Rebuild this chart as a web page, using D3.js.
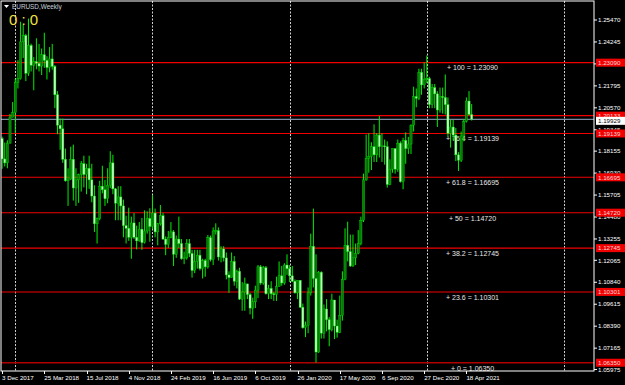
<!DOCTYPE html>
<html>
<head>
<meta charset="utf-8">
<script src="https://cdn.jsdelivr.net/npm/d3@7.9.0/dist/d3.min.js"></script>
<style>
  html, body { margin: 0; padding: 0; background: #000; }
  svg { display: block; font-family: "Liberation Sans", Arial, sans-serif; }
</style>
</head>
<body>
<svg id="chart" width="625" height="385"></svg>
<script>
// EURUSD weekly candles, first bar = week of 3 Dec 2017, last = week of 2 May 2021
const firstWeek = '2017-12-03';
const opens = [
  1.1885,1.1772,1.1750,1.1860,1.2005,
  1.2030,1.2200,1.2220,1.2425,1.2460,1.2250,1.2405,1.2295,1.2315,1.2305,1.2290,1.2353,1.2322,1.2282,1.2330,1.2288,1.2130,1.1960,1.1940,1.1770,1.1650,1.1660,1.1770,1.1610,1.1655,1.1685,1.1745,1.1685,1.1720,1.1655,1.1565,1.1410,1.1440,1.1620,1.1600,1.1550,1.1625,1.1750,1.1605,1.1525,1.1560,1.1510,1.1400,1.1385,1.1335,1.1415,1.1335,1.1315,1.1380,1.1305,1.1370,1.1440,
  1.1395,1.1470,1.1365,1.1410,1.1455,1.1325,1.1295,1.1335,1.1365,1.1240,1.1325,1.1300,1.1215,1.1220,1.1300,1.1245,1.1150,1.1200,1.1235,1.1160,1.1205,1.1170,1.1333,1.1210,1.1370,1.1372,1.1225,1.1270,1.1220,1.1125,1.1110,1.1200,1.1090,1.1145,1.0990,1.1030,1.1075,1.1015,1.0940,1.0975,1.1040,1.1170,1.1080,1.1165,1.1020,1.1050,1.1020,1.1015,1.1060,1.1120,1.1080,1.1180,
  1.1160,1.1120,1.1090,1.1025,1.1095,1.0945,1.0830,1.0845,1.1025,1.1285,1.1105,1.0695,1.1140,1.0800,1.0935,1.0875,1.0820,1.0985,1.0840,1.0805,1.0900,1.1100,1.1290,1.1255,1.1175,1.1220,1.1245,1.1300,1.1430,1.1655,1.1775,1.1785,1.1840,1.1795,1.1905,1.1840,1.1845,1.1840,1.1630,1.1715,1.1830,1.1715,1.1860,1.1645,1.1875,1.1830,1.1855,1.1960,1.2120,1.2110,1.2255,1.2185,
  1.2215,1.2220,1.2075,1.2170,1.2135,1.2045,1.2120,1.2115,1.2075,1.1915,1.1950,1.1905,1.1795,1.1765,1.1900,1.1980,1.2095,1.2020
];
const highs = [
  1.1896,1.1863,1.1876,1.2023,1.2089,
  1.2219,1.2323,1.2537,1.2520,1.2470,1.2555,1.2415,1.2340,1.2445,1.2413,1.2388,1.2476,1.2345,1.2396,1.2414,1.2296,1.2150,1.1997,1.1997,1.1830,1.1720,1.1840,1.1852,1.1720,1.1690,1.1760,1.1790,1.1745,1.1790,1.1745,1.1625,1.1445,1.1650,1.1734,1.1655,1.1720,1.1815,1.1795,1.1610,1.1620,1.1620,1.1545,1.1455,1.1500,1.1450,1.1470,1.1400,1.1420,1.1443,1.1485,1.1480,1.1497,
  1.1570,1.1495,1.1415,1.1515,1.1470,1.1340,1.1370,1.1420,1.1375,1.1345,1.1450,1.1325,1.1255,1.1325,1.1325,1.1265,1.1265,1.1265,1.1265,1.1215,1.1215,1.1348,1.1345,1.1390,1.1413,1.1390,1.1285,1.1285,1.1250,1.1145,1.1250,1.1230,1.1155,1.1165,1.1085,1.1110,1.1075,1.1025,1.0998,1.1065,1.1180,1.1180,1.1175,1.1175,1.1070,1.1090,1.1030,1.1115,1.1200,1.1175,1.1190,1.1240,
  1.1180,1.1175,1.1100,1.1095,1.1095,1.0965,1.0865,1.1055,1.1355,1.1495,1.1240,1.1147,1.1145,1.0960,1.0990,1.0890,1.1020,1.0985,1.0875,1.1010,1.1145,1.1385,1.1422,1.1350,1.1350,1.1300,1.1375,1.1450,1.1690,1.1908,1.1915,1.1865,1.1965,1.1915,1.2011,1.1915,1.1880,1.1870,1.1770,1.1830,1.1830,1.1880,1.1870,1.1890,1.1920,1.1895,1.1965,1.2175,1.2165,1.2275,1.2275,1.2310,
  1.2349,1.2230,1.2190,1.2190,1.2150,1.2170,1.2170,1.2243,1.2115,1.1990,1.1990,1.1945,1.1810,1.1925,1.1995,1.2115,1.2150,1.2078
];
const lows = [
  1.1717,1.1730,1.1720,1.1858,1.2004,
  1.1915,1.2165,1.2215,1.2335,1.2206,1.2235,1.2260,1.2155,1.2272,1.2260,1.2240,1.2280,1.2215,1.2255,1.2270,1.2055,1.1910,1.1823,1.1750,1.1645,1.1510,1.1655,1.1540,1.1510,1.1527,1.1590,1.1613,1.1575,1.1605,1.1530,1.1365,1.1300,1.1430,1.1580,1.1510,1.1525,1.1610,1.1575,1.1430,1.1430,1.1430,1.1335,1.1300,1.1315,1.1215,1.1325,1.1267,1.1310,1.1265,1.1300,1.1355,1.1310,
  1.1380,1.1335,1.1290,1.1400,1.1320,1.1235,1.1275,1.1330,1.1175,1.1220,1.1275,1.1210,1.1185,1.1210,1.1225,1.1110,1.1135,1.1160,1.1150,1.1105,1.1115,1.1160,1.1200,1.1180,1.1350,1.1205,1.1195,1.1200,1.1100,1.1025,1.1110,1.1065,1.1050,1.0985,1.0925,1.0925,1.0990,1.0905,1.0880,1.0940,1.0995,1.1070,1.1070,1.1015,1.0990,1.0990,1.0980,1.0980,1.1060,1.1065,1.1070,1.1125,
  1.1085,1.1085,1.1020,1.0990,1.0940,1.0825,1.0778,1.0800,1.1010,1.1055,1.0636,1.0690,1.0770,1.0770,1.0810,1.0727,1.0810,1.0767,1.0775,1.0800,1.0870,1.1095,1.1200,1.1170,1.1170,1.1180,1.1240,1.1290,1.1420,1.1650,1.1695,1.1710,1.1755,1.1755,1.1780,1.1755,1.1740,1.1612,1.1625,1.1695,1.1690,1.1700,1.1640,1.1603,1.1745,1.1800,1.1800,1.1925,1.2060,1.2100,1.2130,1.2165,
  1.2195,1.2055,1.2055,1.2055,1.1950,1.2030,1.2025,1.2020,1.1895,1.1835,1.1875,1.1760,1.1705,1.1755,1.1870,1.1975,1.2015,1.1986
];
const closes = [
  1.1772,1.1750,1.1860,1.2005,1.2030,
  1.2200,1.2220,1.2425,1.2460,1.2250,1.2405,1.2295,1.2315,1.2305,1.2290,1.2353,1.2322,1.2282,1.2330,1.2288,1.2130,1.1960,1.1940,1.1770,1.1650,1.1660,1.1770,1.1610,1.1655,1.1685,1.1745,1.1685,1.1720,1.1655,1.1565,1.1410,1.1440,1.1620,1.1600,1.1550,1.1625,1.1750,1.1605,1.1525,1.1560,1.1510,1.1400,1.1385,1.1335,1.1415,1.1335,1.1315,1.1380,1.1305,1.1370,1.1440,1.1395,
  1.1470,1.1365,1.1410,1.1455,1.1325,1.1295,1.1335,1.1365,1.1240,1.1325,1.1300,1.1215,1.1220,1.1300,1.1245,1.1150,1.1200,1.1235,1.1160,1.1205,1.1170,1.1333,1.1210,1.1370,1.1372,1.1225,1.1270,1.1220,1.1125,1.1110,1.1200,1.1090,1.1145,1.0990,1.1030,1.1075,1.1015,1.0940,1.0975,1.1040,1.1170,1.1080,1.1165,1.1020,1.1050,1.1020,1.1015,1.1060,1.1120,1.1080,1.1180,1.1160,
  1.1120,1.1090,1.1025,1.1095,1.0945,1.0830,1.0845,1.1025,1.1285,1.1105,1.0695,1.1140,1.0800,1.0935,1.0875,1.0820,1.0985,1.0840,1.0805,1.0900,1.1100,1.1290,1.1255,1.1175,1.1220,1.1245,1.1300,1.1430,1.1655,1.1775,1.1785,1.1840,1.1795,1.1905,1.1840,1.1845,1.1840,1.1630,1.1715,1.1830,1.1715,1.1860,1.1645,1.1875,1.1830,1.1855,1.1960,1.2120,1.2110,1.2255,1.2185,1.2215,
  1.2220,1.2075,1.2170,1.2135,1.2045,1.2120,1.2115,1.2075,1.1915,1.1950,1.1905,1.1795,1.1765,1.1900,1.1980,1.2095,1.2020,1.1993
];

// fibonacci levels drawn on the chart
const fibLevels = ['100', '76.4', '61.8', '50', '38.2', '23.6', '0'];
const fibPrices = [1.23090, 1.19139, 1.16695, 1.14720, 1.12745, 1.10301, 1.06350];
const extraLine = 1.20133;
const bidPrice = 1.19929;

const priceTicks = [1.25470,1.24245,1.23020,1.21795,1.20570,1.19345,1.18155,1.16930,1.15705,1.14480,1.13255,1.12065,1.10840,1.09615,1.08390,1.07165,1.05975];
const dateTicks = ['2017-12-03','2018-03-25','2018-07-15','2018-11-04','2019-02-24','2019-06-16','2019-10-06','2020-01-26','2020-05-17','2020-09-06','2020-12-27','2021-04-18'];
const dateLabels = ['3 Dec 2017','25 Mar 2018','15 Jul 2018','4 Nov 2018','24 Feb 2019','16 Jun 2019','6 Oct 2019','26 Jan 2020','17 May 2020','6 Sep 2020','27 Dec 2020','18 Apr 2021'];
const yearStarts = ['2018-01-07','2019-01-06','2020-01-05','2021-01-03','2022-01-02'];

(() => {
const W = 625, H = 385;
const pL = 1, pR = 594, pT = 1, pB = 371;
const svg = d3.select('#chart');
const parse = d3.utcParse('%Y-%m-%d');

const start = parse(firstWeek);
const weeks = d3.utcSunday.range(start, d3.utcSunday.offset(start, opens.length));

const x = d3.scaleUtc()
  .domain([start, parse('2022-01-02')])
  .range([2.1, 564]);
const y = d3.scaleLinear()
  .domain([1.0589, 1.2653])
  .range([pB, pT]);

svg.append('rect').attr('width', W).attr('height', H).attr('fill', '#000');

svg.append('defs').append('clipPath').attr('id', 'plot')
  .append('rect').attr('x', pL).attr('y', pT)
  .attr('width', pR - pL).attr('height', pB - pT);

// year separators
svg.append('g').selectAll('line')
  .data(yearStarts)
  .enter().append('line')
  .attr('x1', d => Math.round(x(parse(d))) + 0.5)
  .attr('x2', d => Math.round(x(parse(d))) + 0.5)
  .attr('y1', pT).attr('y2', pB)
  .attr('stroke', '#d0d0d0')
  .attr('stroke-dasharray', '2,1.5');

// fib lines + extra horizontal line
const hl = svg.append('g').attr('clip-path', 'url(#plot)');
hl.selectAll('line.fib')
  .data(fibPrices)
  .enter().append('line')
  .attr('class', 'fib')
  .attr('x1', pL).attr('x2', pR)
  .attr('y1', d => y(d)).attr('y2', d => y(d))
  .attr('stroke', (d, i) => i === fibPrices.length - 1 ? '#b00000' : '#f00000')
  .attr('stroke-width', (d, i) => i === fibPrices.length - 1 ? 1.6 : 1.1);
hl.append('line')
  .attr('x1', pL).attr('x2', pR)
  .attr('y1', y(extraLine)).attr('y2', y(extraLine))
  .attr('stroke', '#f00000').attr('stroke-width', 1.1);
hl.append('line')
  .attr('x1', pL).attr('x2', pR)
  .attr('y1', y(bidPrice)).attr('y2', y(bidPrice))
  .attr('stroke', '#7b8aa3').attr('stroke-width', 1.1);

// fib texts (under the candles, like the terminal draws them)
svg.append('g').selectAll('text')
  .data(fibPrices)
  .enter().append('text')
  .attr('x', 472.5)
  .attr('y', d => y(d) + 7.8)
  .attr('text-anchor', 'middle')
  .attr('font-size', 7)
  .attr('fill', '#e8e8e8')
  .text((d, i) => `+ ${fibLevels[i]}  = ${d.toFixed(5)}`);

// --- CANDLES ---
const candles = svg.append('g').attr('clip-path', 'url(#plot)')
  .selectAll('g')
  .data(weeks.map((d, i) => ({ date: d, o: opens[i], h: highs[i], l: lows[i], c: closes[i] })))
  .enter().append('g');

candles.append('line')
  .attr('x1', d => x(d.date)).attr('x2', d => x(d.date))
  .attr('y1', d => y(d.h)).attr('y2', d => y(d.l))
  .attr('stroke', '#00ee00').attr('stroke-width', 1);

candles.append('rect')
  .attr('x', d => x(d.date) - 1.1)
  .attr('width', 2.2)
  .attr('y', d => y(Math.max(d.o, d.c)))
  .attr('height', d => Math.max(0.8, Math.abs(y(d.o) - y(d.c))))
  .attr('fill', d => d.c >= d.o ? '#087a08' : '#b6ffb6')
  .attr('stroke', '#00e000')
  .attr('stroke-width', 0.4);

// frame
svg.append('rect')
  .attr('x', pL).attr('y', pT)
  .attr('width', pR - pL).attr('height', pB - pT)
  .attr('fill', 'none').attr('stroke', '#ffffff').attr('stroke-width', 1);

// price axis
const pa = svg.append('g');
pa.selectAll('line')
  .data(priceTicks)
  .enter().append('line')
  .attr('x1', pR).attr('x2', pR + 3)
  .attr('y1', d => y(d)).attr('y2', d => y(d))
  .attr('stroke', '#fff');
pa.selectAll('text')
  .data(priceTicks)
  .enter().append('text')
  .attr('x', 598)
  .attr('y', d => y(d) + 2.2)
  .attr('font-size', 6.2)
  .attr('fill', '#fff')
  .text(d => d.toFixed(5));

// price labels for lines
const tags = fibPrices.concat([extraLine]);
const tg = svg.append('g');
tg.selectAll('rect')
  .data(tags)
  .enter().append('rect')
  .attr('x', 596).attr('width', 29)
  .attr('y', d => y(d) - 4).attr('height', 8)
  .attr('fill', '#f00000');
tg.selectAll('text')
  .data(tags)
  .enter().append('text')
  .attr('x', 598)
  .attr('y', d => y(d) + 2.2)
  .attr('font-size', 6.2)
  .attr('fill', '#ffd8d8')
  .text(d => d.toFixed(5));
tg.append('rect')
  .attr('x', 596).attr('width', 29)
  .attr('y', y(bidPrice) - 4 + 1.5).attr('height', 8)
  .attr('fill', '#fff');
tg.append('text')
  .attr('x', 598).attr('y', y(bidPrice) + 3.7)
  .attr('font-size', 6.2).attr('fill', '#000')
  .text(bidPrice.toFixed(5));

// time axis
const ta = svg.append('g');
ta.selectAll('line')
  .data(dateTicks)
  .enter().append('line')
  .attr('x1', d => Math.round(x(parse(d))) + 0.5)
  .attr('x2', d => Math.round(x(parse(d))) + 0.5)
  .attr('y1', pB).attr('y2', pB + 3)
  .attr('stroke', '#fff');
ta.selectAll('text')
  .data(dateTicks)
  .enter().append('text')
  .attr('x', (d, i) => i === 0 ? 2 : x(parse(d)))
  .attr('y', 379.5)
  .attr('font-size', 6.2)
  .attr('fill', '#fff')
  .text((d, i) => dateLabels[i]);

// header
svg.append('path').attr('d', 'M4,5 L9,5 L6.5,8 Z').attr('fill', '#fff');
svg.append('text')
  .attr('x', 12).attr('y', 9.3)
  .attr('font-size', 6.4)
  .attr('fill', '#c8d0dc')
  .text('EURUSD,Weekly');
svg.append('text')
  .attr('x', 9).attr('y', 24.5)
  .attr('font-size', 15)
  .attr('fill', '#f2e040')
  .text('0 : 0');
})();
</script>
</body>
</html>
